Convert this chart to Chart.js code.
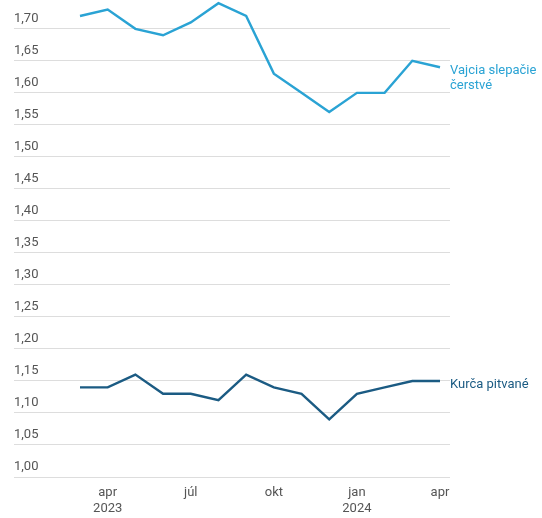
<!DOCTYPE html>
<html>
<head>
<meta charset="utf-8">
<script src="https://cdn.jsdelivr.net/npm/chart.js@4/dist/chart.umd.min.js"></script>
<style>
  html, body { margin: 0; padding: 0; background: #ffffff; }
  #wrap { width: 542px; height: 518px; position: relative; }
</style>
</head>
<body>
<div id="wrap"><canvas id="c"></canvas></div>
<script>
// Monthly average prices (EUR), March 2023 – April 2024
const months = ['mar', 'apr', 'máj', 'jún', 'júl', 'aug', 'sep', 'okt', 'nov', 'dec', 'jan', 'feb', 'mar', 'apr'];
const years  = ['2023', '2023', '2023', '2023', '2023', '2023', '2023', '2023', '2023', '2023', '2024', '2024', '2024', '2024'];
const eggs     = [1.72, 1.73, 1.70, 1.69, 1.71, 1.74, 1.72, 1.63, 1.60, 1.57, 1.60, 1.60, 1.65, 1.64];
const chicken  = [1.14, 1.14, 1.16, 1.13, 1.13, 1.12, 1.16, 1.14, 1.13, 1.09, 1.13, 1.14, 1.15, 1.15];
const seriesNames = [['Vajcia slepačie', 'čerstvé'], ['Kurča pitvané']];
const seriesColors = ['#2aa3d4', '#1b5b83'];
const yTicks = [1.00, 1.05, 1.10, 1.15, 1.20, 1.25, 1.30, 1.35, 1.40, 1.45, 1.50, 1.55, 1.60, 1.65, 1.70];
const xTickIdx = [1, 4, 7, 10, 13];

const FONT = 'Roboto, "Noto Sans", sans-serif';
const toPts = arr => arr.map((v, i) => ({ x: i, y: v }));

// Series names written next to the last point of each line
const endLabels = {
  id: 'endLabels',
  afterDatasetsDraw(chart) {
    const ctx = chart.ctx;
    const xs = chart.scales.x, ys = chart.scales.y;
    chart.data.datasets.forEach((ds, di) => {
      const last = ds.data[ds.data.length - 1];
      const px = xs.getPixelForValue(last.x) + 10;
      const py = ys.getPixelForValue(last.y) + 4;
      ctx.save();
      ctx.font = '13px ' + FONT;
      ctx.fillStyle = seriesColors[di];
      ctx.textAlign = 'left';
      ctx.textBaseline = 'middle';
      seriesNames[di].forEach((line, li) => ctx.fillText(line, px, py + li * 15));
      ctx.restore();
    });
  }
};

new Chart(document.getElementById('c'), {
  type: 'line',
  data: {
    datasets: [
      { data: toPts(eggs), borderColor: seriesColors[0], borderWidth: 2.4, pointRadius: 0, tension: 0, clip: false },
      { data: toPts(chicken), borderColor: seriesColors[1], borderWidth: 2.4, pointRadius: 0, tension: 0, clip: false }
    ]
  },
  options: {
    responsive: true,
    maintainAspectRatio: false,
    animation: false,
    layout: { padding: { left: 14, right: 92, top: 0, bottom: 2 } },
    plugins: { legend: { display: false }, tooltip: { enabled: false } },
    scales: {
      x: {
        type: 'linear',
        min: -2.383,
        max: 13.361,
        afterBuildTicks: s => { s.ticks = xTickIdx.map(v => ({ value: v })); },
        afterFit: s => { s.height = 39; s.paddingLeft = 0; s.paddingRight = 0; },
        grid: { display: false, drawTicks: false },
        border: { display: false },
        ticks: {
          font: { family: FONT, size: 13, lineHeight: 1.2 },
          color: '#555555',
          padding: 8,
          maxRotation: 0,
          autoSkip: false,
          callback: v => {
            const i = Math.round(v);
            if (i === 1 || i === 10) return [months[i], years[i]];
            return months[i];
          }
        }
      },
      y: {
        min: 1.0,
        max: 1.745,
        afterBuildTicks: s => { s.ticks = yTicks.map(v => ({ value: v })); },
        afterFit: s => { s.paddingTop = 0; s.paddingBottom = 0; },
        grid: { color: '#dddddd', lineWidth: 1, drawTicks: false },
        border: { display: false },
        ticks: {
          mirror: true,
          padding: 0,
          labelOffset: -10,
          font: { family: FONT, size: 13 },
          color: '#555555',
          callback: v => v.toFixed(2).replace('.', ',')
        }
      }
    }
  },
  plugins: [endLabels]
});
</script>
</body>
</html>
